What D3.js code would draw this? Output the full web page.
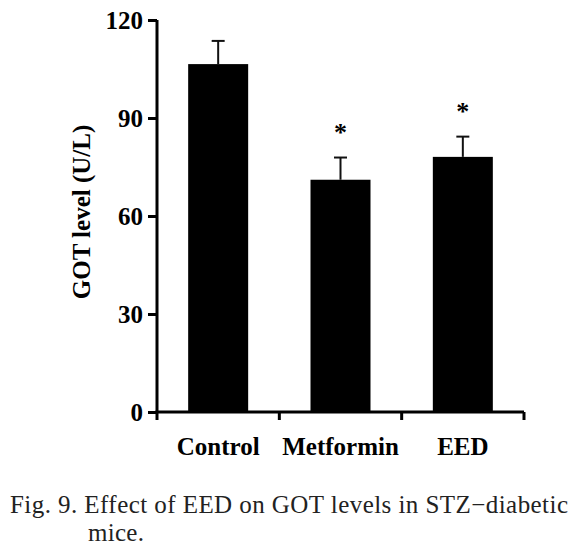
<!DOCTYPE html>
<html><head><meta charset="utf-8">
<script src="https://cdn.jsdelivr.net/npm/d3@7"></script>
<style>body{margin:0;background:#fff}svg{display:block}</style>
</head><body>
<script>
const categories = ["Control", "Metformin", "EED"];
const means = [106.5, 71.1, 78.1];
const errors = [7.1, 6.8, 6.2];
const significant = [false, true, true];
const yTicks = [0, 30, 60, 90, 120];
const yLabel = "GOT level (U/L)";
const captionLines = ["Fig. 9. Effect of EED on GOT levels in STZ\u2212diabetic", "mice."];

const W = 587, H = 549;
const svg = d3.select("body").append("svg").attr("width", W).attr("height", H);
const mLeft = 157, mRight = 524, mTop = 20, mBottom = 412;
const x = d3.scaleBand().domain(categories).range([mLeft, mRight]).paddingInner(0).paddingOuter(0);
const y = d3.scaleLinear().domain([0, 120]).range([mBottom, mTop]);
const barW = 60;
const font = "'Liberation Serif', 'Times New Roman', serif";

// bars
svg.selectAll("rect.bar").data(categories).join("rect")
  .attr("x", d => x(d) + x.bandwidth()/2 - barW/2)
  .attr("y", (d,i) => y(means[i]))
  .attr("width", barW)
  .attr("height", (d,i) => y(0) - y(means[i]))
  .attr("fill", "#000");

// error bars
const eg = svg.append("g").attr("stroke", "#111").attr("stroke-width", 2);
categories.forEach((c,i) => {
  const cx = x(c) + x.bandwidth()/2;
  eg.append("line").attr("x1", cx).attr("x2", cx).attr("y1", y(means[i])).attr("y2", y(means[i]+errors[i]));
  eg.append("line").attr("x1", cx-6.5).attr("x2", cx+6.5).attr("y1", y(means[i]+errors[i])).attr("y2", y(means[i]+errors[i]));
});

// asterisks
categories.forEach((c,i) => {
  if (!significant[i]) return;
  svg.append("text").attr("x", x(c) + x.bandwidth()/2).attr("y", y(means[i]+errors[i]) - 29 + 12)
    .attr("text-anchor", "middle").attr("font-family", font).attr("font-weight", "bold")
    .attr("font-size", 26).text("*");
});

// y axis
const yAxis = d3.axisLeft(y).tickValues(yTicks).tickSize(9).tickPadding(5);
const gy = svg.append("g").attr("transform", `translate(${mLeft},0)`).call(yAxis);
gy.select(".domain").attr("stroke-width", 3).attr("d", `M0,${mTop}V${mBottom}`);
gy.selectAll(".tick line").attr("stroke-width", 3);
gy.selectAll(".tick text").attr("font-family", font).attr("font-weight", "bold").attr("font-size", 25).attr("fill", "#000");

// x axis
const xAxis = d3.axisBottom(x).tickSize(0).tickPadding(0);
const gx = svg.append("g").attr("transform", `translate(0,${mBottom})`).call(xAxis);
gx.select(".domain").attr("stroke-width", 3).attr("d", `M${mLeft-1.5},0H${mRight}`);
gx.selectAll(".tick text").attr("font-family", font).attr("font-weight", "bold").attr("font-size", 25).attr("fill", "#000").attr("dy", 0).attr("y", 43);
const edges = categories.map(c => x(c)).concat([mRight]);
gx.selectAll("line.sep").data(edges).join("line").attr("class","sep")
  .attr("x1", d => d).attr("x2", d => d).attr("y1", 0).attr("y2", 8)
  .attr("stroke", "#000").attr("stroke-width", 3);

// y label
svg.append("text").attr("transform", `translate(90,212) rotate(-90)`)
  .attr("text-anchor", "middle").attr("font-family", font).attr("font-weight", "bold")
  .attr("font-size", 25).text(yLabel);

// caption
svg.append("text").attr("x", 10).attr("y", 513).attr("font-family", font).attr("font-size", 25)
  .attr("fill", "#222").attr("textLength", 558).attr("lengthAdjust", "spacing").text(captionLines[0]);
svg.append("text").attr("x", 88).attr("y", 541).attr("font-family", font).attr("font-size", 25)
  .attr("fill", "#222").attr("textLength", 56).attr("lengthAdjust", "spacing").text(captionLines[1]);
</script>
</body></html>
